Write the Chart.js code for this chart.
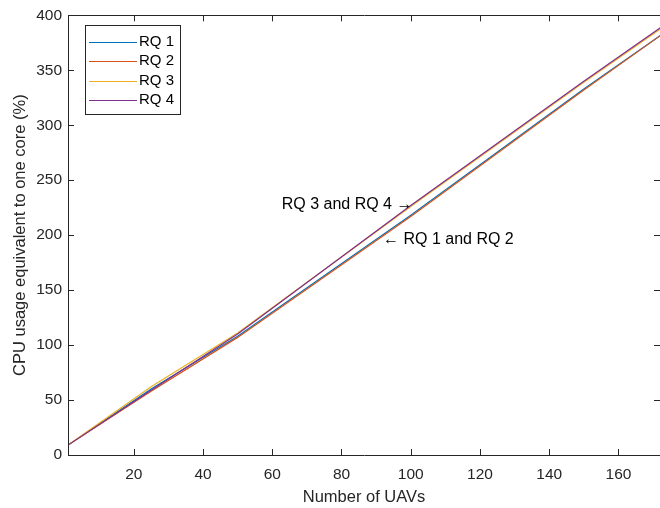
<!DOCTYPE html>
<html>
<head>
<meta charset="utf-8">
<script src="https://cdn.jsdelivr.net/npm/chart.js@4/dist/chart.umd.min.js"></script>
<style>
  html, body { margin: 0; padding: 0; background: #fff; }
  #wrap { width: 660px; height: 508px; }
</style>
</head>
<body>
<div id="wrap"><canvas id="cpuChart" width="660" height="508"></canvas></div>
<script>
// number of UAVs in each run
const uavCounts = [1, 25, 50, 100, 150, 175];

// CPU usage (% of one core) per request type
const rq1 = [9, 60, 108, 218, 333, 388];
const rq2 = [9, 58, 107, 217, 332, 388];
const rq3 = [9, 62, 111, 226, 339, 394];
const rq4 = [9, 59, 110, 227, 340, 395];

const seriesNames = ['RQ 1', 'RQ 2', 'RQ 3', 'RQ 4'];
const seriesColors = ['#0072BD', '#D95319', '#EDB120', '#7E2F8E'];

const xTicks = [20, 40, 60, 80, 100, 120, 140, 160];
const yTicks = [0, 50, 100, 150, 200, 250, 300, 350, 400];

const FONT = '"Liberation Sans", Arial, Helvetica, sans-serif';
const AXIS_COLOR = '#262626';

function toPoints(xs, ys) {
  return xs.map((x, i) => ({ x: x, y: ys[i] }));
}

// box, inward tick marks, axis titles, legend and the two text labels
const matlabAxes = {
  id: 'matlabAxes',
  afterDraw(chart) {
    const ctx = chart.ctx;
    const a = chart.chartArea;
    const xs = chart.scales.x;
    const ys = chart.scales.y;
    const tl = 6;

    ctx.save();
    ctx.strokeStyle = AXIS_COLOR;
    ctx.lineWidth = 1;
    ctx.beginPath();
    ctx.rect(Math.round(a.left) + 0.5, Math.round(a.top) + 0.5,
             Math.round(a.right - a.left), Math.round(a.bottom - a.top));
    xTicks.forEach(v => {
      const px = Math.round(xs.getPixelForValue(v)) + 0.5;
      ctx.moveTo(px, a.bottom); ctx.lineTo(px, a.bottom - tl);
      ctx.moveTo(px, a.top); ctx.lineTo(px, a.top + tl);
    });
    yTicks.forEach(v => {
      const py = Math.round(ys.getPixelForValue(v)) + 0.5;
      ctx.moveTo(a.left, py); ctx.lineTo(a.left + tl, py);
      ctx.moveTo(a.right, py); ctx.lineTo(a.right - tl, py);
    });
    ctx.stroke();

    // axis titles
    ctx.fillStyle = AXIS_COLOR;
    ctx.font = '16.5px ' + FONT;
    ctx.textAlign = 'center';
    ctx.textBaseline = 'middle';
    ctx.fillText('Number of UAVs', (a.left + a.right) / 2, 497);
    ctx.save();
    ctx.translate(20, (a.top + a.bottom) / 2);
    ctx.rotate(-Math.PI / 2);
    ctx.fillText('CPU usage equivalent to one core (%)', 0, 0);
    ctx.restore();

    // legend
    const box = { x: 85, y: 25, w: 95, h: 89 };
    ctx.fillStyle = '#fff';
    ctx.fillRect(box.x, box.y, box.w, box.h);
    ctx.strokeStyle = AXIS_COLOR;
    ctx.strokeRect(box.x + 0.5, box.y + 0.5, box.w, box.h);
    ctx.font = '15px ' + FONT;
    ctx.textAlign = 'left';
    chart.data.datasets.forEach((ds, i) => {
      const y = 41.5 + i * 19.5;
      ctx.strokeStyle = ds.borderColor;
      ctx.beginPath();
      ctx.moveTo(89, Math.round(y) + 0.5);
      ctx.lineTo(137, Math.round(y) + 0.5);
      ctx.stroke();
      ctx.fillStyle = '#000';
      ctx.fillText(ds.label, 139, y);
    });

    // labels pointing at the two groups of lines
    ctx.fillStyle = '#000';
    ctx.font = '16px ' + FONT;
    ctx.textAlign = 'right';
    ctx.fillText('RQ 3 and RQ 4 \u2192', xs.getPixelForValue(100.5), ys.getPixelForValue(228));
    ctx.textAlign = 'left';
    ctx.fillText('\u2190 RQ 1 and RQ 2', xs.getPixelForValue(92), ys.getPixelForValue(196));
    ctx.restore();
  }
};

function createCpuChart(canvasId) {
  const ctx = document.getElementById(canvasId).getContext('2d');
  const series = [rq1, rq2, rq3, rq4];
  return new Chart(ctx, {
    type: 'line',
    data: {
      datasets: series.map((ys, i) => ({
        label: seriesNames[i],
        data: toPoints(uavCounts, ys),
        borderColor: seriesColors[i],
        backgroundColor: seriesColors[i],
        borderWidth: 1.2,
        pointRadius: 0,
        tension: 0,
        fill: false,
        // later series are painted over earlier ones
        order: series.length - i
      }))
    },
    options: {
      responsive: false,
      animation: false,
      layout: { padding: { left: 0, right: 0, top: 10, bottom: 0 } },
      plugins: {
        legend: { display: false },
        tooltip: { enabled: false }
      },
      scales: {
        x: {
          type: 'linear',
          min: 1,
          max: 172,
          grid: { display: false, drawTicks: false },
          border: { display: false },
          afterBuildTicks: scale => { scale.ticks = xTicks.map(v => ({ value: v })); },
          afterFit: scale => { scale.height = 53; },
          ticks: {
            padding: 10,
            color: AXIS_COLOR,
            font: { family: FONT, size: 15.5 },
            maxRotation: 0
          }
        },
        y: {
          type: 'linear',
          min: 0,
          max: 400,
          grid: { display: false, drawTicks: false },
          border: { display: false },
          afterBuildTicks: scale => { scale.ticks = yTicks.map(v => ({ value: v })); },
          afterFit: scale => { scale.width = 68; },
          ticks: {
            padding: 6,
            color: AXIS_COLOR,
            font: { family: FONT, size: 15.5 }
          }
        }
      }
    },
    plugins: [matlabAxes]
  });
}

createCpuChart('cpuChart');
</script>
</body>
</html>
